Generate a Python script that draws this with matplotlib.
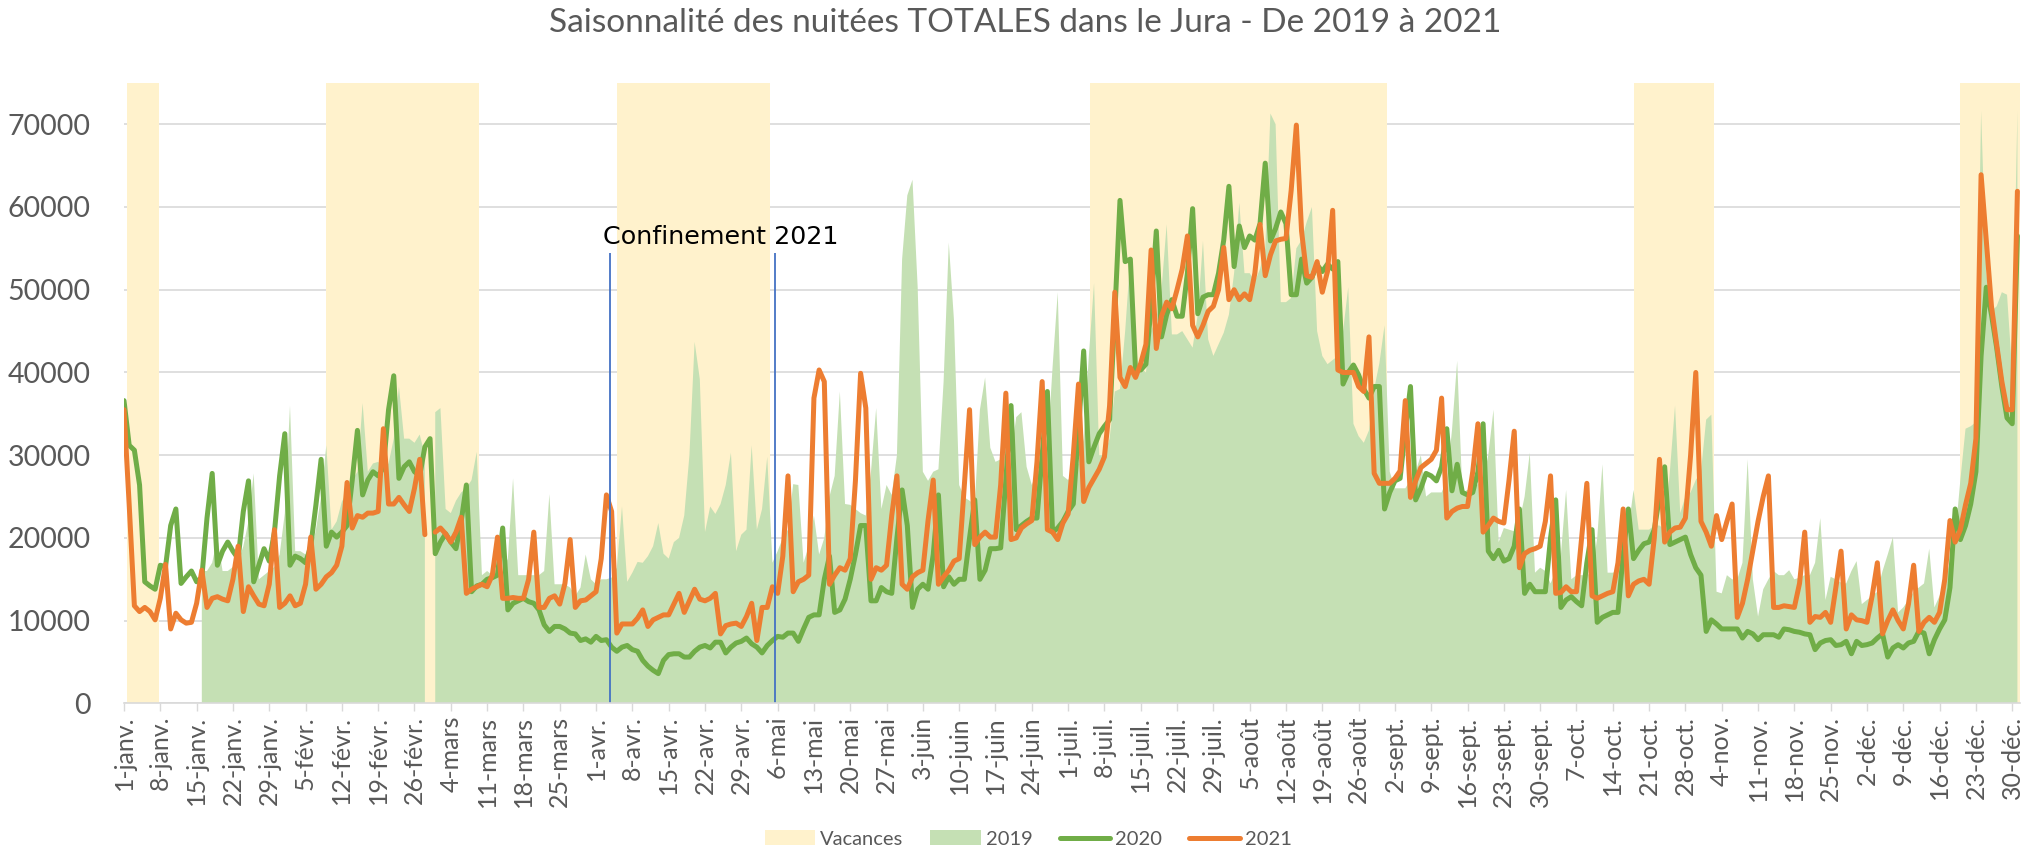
import numpy as np
import matplotlib
matplotlib.use("Agg")
import matplotlib.pyplot as plt
from matplotlib.patches import Patch
from matplotlib.lines import Line2D

nan = float("nan")

TITLE = "Saisonnalité des nuitées TOTALES dans le Jura - De 2019 à 2021"

# weekly tick labels (category axis of a leap year: 366 days)
tick_labels = [
    "1-janv.", "8-janv.", "15-janv.", "22-janv.", "29-janv.", "5-févr.", "12-févr.",
    "19-févr.", "26-févr.", "4-mars", "11-mars", "18-mars", "25-mars", "1-avr.",
    "8-avr.", "15-avr.", "22-avr.", "29-avr.", "6-mai", "13-mai", "20-mai", "27-mai",
    "3-juin", "10-juin", "17-juin", "24-juin", "1-juil.", "8-juil.", "15-juil.",
    "22-juil.", "29-juil.", "5-août", "12-août", "19-août", "26-août", "2-sept.",
    "9-sept.", "16-sept.", "23-sept.", "30-sept.", "7-oct.", "14-oct.", "21-oct.",
    "28-oct.", "4-nov.", "11-nov.", "18-nov.", "25-nov.", "2-déc.", "9-déc.",
    "16-déc.", "23-déc.", "30-déc.",
]

# daily nights, in thousands (index 0 = 1 Jan, 59 = 29 Feb)
nuitees_2019_k = [
    nan, nan, nan, nan, nan, nan, nan, nan, nan, nan,
    nan, nan, nan, nan, nan, 16.0, 16.0, 17.0, 20.0, 16.0,
    16.0, 16.5, 17.0, 19.0, 22.0, 27.8, 15.0, 15.5, 16.0, 16.5,
    18.0, 23.0, 36.0, 18.4, 18.4, 18.0, 18.0, 21.0, 25.0, 31.2,
    21.0, 22.0, 24.4, 25.5, 27.0, 28.0, 36.3, 28.0, 29.0, 29.2,
    28.5, 29.0, 32.0, 38.3, 32.0, 32.0, 31.5, 32.5, 30.0, nan,
    35.2, 35.7, 23.5, 23.0, 24.5, 25.5, 26.0, 27.0, 30.4, 15.5,
    16.0, 15.5, 16.5, 16.0, 17.5, 27.2, 15.5, 15.5, 15.5, 15.5,
    15.5, 16.0, 25.3, 14.4, 14.4, 14.4, 14.0, 13.0, 14.0, 18.0,
    15.0, 14.4, 15.0, 15.0, 15.2, 16.4, 23.8, 14.7, 15.8, 17.1,
    17.0, 17.8, 19.0, 21.8, 18.1, 17.5, 19.5, 20.0, 22.7, 30.0,
    43.7, 39.2, 20.7, 23.8, 22.9, 24.1, 26.4, 30.3, 18.4, 20.4,
    21.0, 31.2, 21.0, 23.5, 29.8, 17.0, 18.4, 20.0, 21.0, 26.5,
    26.4, 17.0, 19.0, 22.7, 18.0, 20.0, 25.0, 27.5, 37.7, 24.1,
    24.0, 23.5, 23.0, 22.7, 28.0, 35.7, 23.5, 26.4, 25.2, 30.0,
    53.7, 61.4, 63.3, 50.3, 28.0, 26.9, 28.0, 28.3, 38.9, 55.7,
    46.3, 26.4, 24.9, 24.5, 24.0, 35.5, 39.4, 30.9, 29.2, 29.5,
    30.0, 30.0, 34.6, 35.2, 28.6, 26.4, 28.0, 28.5, 30.3, 40.6,
    49.7, 27.5, 27.0, 28.0, 29.0, 32.0, 42.0, 50.8, 30.0, 30.0,
    32.0, 37.7, 38.0, 45.0, 54.0, 40.6, 40.6, 40.0, 45.0, 46.5,
    50.0, 57.9, 44.6, 44.6, 45.0, 44.0, 43.0, 47.0, 55.9, 44.0,
    42.0, 43.4, 44.8, 47.0, 52.0, 60.5, 52.0, 52.0, 51.0, 52.5,
    55.0, 71.3, 70.0, 48.5, 48.5, 49.0, 55.0, 56.0, 58.2, 60.0,
    45.0, 42.0, 41.0, 41.5, 42.0, 45.0, 50.3, 33.8, 32.3, 31.5,
    33.0, 38.0, 41.1, 45.7, 28.0, 26.0, 26.0, 26.0, 27.0, 28.0,
    30.0, 25.0, 25.5, 25.5, 25.5, 27.0, 33.0, 41.4, 25.5, 25.8,
    26.0, 26.5, 27.0, 30.0, 35.5, 19.5, 21.2, 21.0, 20.8, 22.0,
    25.0, 30.3, 15.8, 16.4, 16.0, 14.5, 16.0, 18.0, 25.8, 15.0,
    15.5, 15.5, 15.5, 15.8, 20.0, 28.9, 15.8, 15.8, 16.0, 18.0,
    21.0, 25.8, 21.0, 21.0, 21.0, 21.5, 21.5, 21.0, 28.0, 36.0,
    23.0, 25.0, 25.5, 27.0, 28.0, 34.3, 34.9, 13.5, 13.3, 15.5,
    15.0, 15.0, 17.0, 29.5, 15.0, 10.5, 13.8, 15.0, 16.0, 15.5,
    15.5, 16.1, 15.0, 15.2, 15.5, 15.5, 17.0, 22.4, 12.5, 15.3,
    15.0, 14.6, 14.5, 16.0, 17.2, 12.0, 12.5, 13.0, 13.5, 16.0,
    18.0, 20.1, 11.0, 11.6, 12.5, 13.5, 14.0, 14.5, 18.7, 11.6,
    13.0, 15.0, 17.0, 20.0, 27.0, 33.2, 33.5, 34.0, 71.6, 52.0,
    47.4, 48.0, 49.7, 49.4, 40.0, 71.6,
]

nuitees_2020_k = [
    36.6, 31.2, 30.6, 26.4, 14.7, 14.2, 13.8, 16.7, 16.5, 21.5,
    23.5, 14.5, 15.3, 16.0, 14.7, 15.2, 22.4, 27.8, 16.7, 18.4,
    19.5, 18.4, 17.5, 23.2, 26.9, 14.7, 16.7, 18.7, 17.2, 20.7,
    27.5, 32.6, 16.7, 17.8, 17.5, 17.0, 19.0, 24.0, 29.5, 19.0,
    20.7, 20.1, 20.7, 21.5, 27.0, 33.0, 25.2, 27.0, 28.0, 27.5,
    28.5, 35.5, 39.6, 27.2, 28.6, 29.2, 28.0, 27.5, 31.0, 32.0,
    18.1, 19.5, 20.5, 19.5, 18.7, 22.0, 26.4, 13.5, 14.2, 14.4,
    15.0, 15.2, 15.5, 21.2, 11.3, 12.1, 12.4, 12.7, 12.3, 12.1,
    11.3, 9.5, 8.7, 9.3, 9.3, 9.0, 8.5, 8.4, 7.6, 7.8,
    7.4, 8.1, 7.6, 7.7, 6.8, 6.3, 6.8, 7.0, 6.5, 6.3,
    5.2, 4.5, 4.0, 3.6, 5.2, 5.9, 6.0, 6.0, 5.6, 5.6,
    6.3, 6.8, 7.0, 6.7, 7.4, 7.4, 6.1, 6.8, 7.3, 7.5,
    7.9, 7.2, 6.8, 6.1, 7.0, 7.6, 8.1, 8.0, 8.5, 8.5,
    7.5, 9.0, 10.4, 10.7, 10.7, 15.0, 17.8, 11.0, 11.3, 12.6,
    15.0, 18.0, 21.5, 21.5, 12.4, 12.4, 14.0, 13.5, 13.3, 20.0,
    25.8, 21.5, 11.6, 13.8, 14.4, 13.8, 18.0, 25.2, 14.1, 15.3,
    14.4, 15.0, 15.0, 20.0, 24.6, 15.0, 16.1, 18.7, 18.7, 18.8,
    27.0, 36.0, 21.0, 21.5, 22.0, 22.4, 22.4, 30.0, 37.7, 20.7,
    21.2, 22.0, 23.2, 24.1, 33.0, 42.6, 29.2, 31.0, 32.6, 33.5,
    34.3, 47.0, 60.8, 53.4, 53.7, 40.3, 40.3, 41.0, 48.0, 57.1,
    44.3, 47.0, 48.8, 46.8, 46.8, 52.0, 59.8, 47.1, 49.1, 49.4,
    49.4, 52.0, 56.0, 62.5, 52.8, 57.7, 55.1, 56.5, 56.0, 58.0,
    65.3, 55.9, 57.4, 59.4, 58.0, 49.4, 49.4, 53.7, 50.8, 51.5,
    53.0, 52.2, 53.1, 52.5, 53.4, 38.6, 40.0, 40.9, 39.7, 38.0,
    36.9, 38.3, 38.3, 23.5, 25.5, 26.9, 27.2, 33.0, 38.3, 24.6,
    26.0, 27.8, 27.5, 26.9, 28.6, 33.2, 25.7, 28.9, 25.5, 25.2,
    25.5, 28.0, 33.8, 18.4, 17.5, 18.5, 17.2, 17.5, 19.0, 23.5,
    13.3, 14.4, 13.5, 13.5, 13.5, 20.0, 24.6, 11.6, 12.5, 12.9,
    12.3, 11.8, 17.0, 21.0, 9.8, 10.4, 10.7, 11.0, 11.0, 18.0,
    23.5, 17.5, 18.5, 19.3, 19.5, 21.0, 25.0, 28.6, 19.2, 19.5,
    19.8, 20.1, 18.0, 16.4, 15.5, 8.7, 10.1, 9.6, 9.0, 9.0,
    9.0, 9.0, 7.9, 8.7, 8.4, 7.7, 8.3, 8.3, 8.3, 8.0,
    9.0, 8.9, 8.7, 8.6, 8.4, 8.3, 6.5, 7.3, 7.6, 7.7,
    7.0, 7.1, 7.5, 6.0, 7.5, 7.0, 7.1, 7.3, 7.9, 8.4,
    5.6, 6.7, 7.1, 6.7, 7.3, 7.5, 8.7, 8.5, 6.0, 7.7,
    9.0, 10.1, 14.0, 23.5, 19.8, 21.5, 24.1, 28.0, 42.0, 50.3,
    47.0, 43.0, 38.3, 34.5, 33.8, 56.5,
]

nuitees_2021_k = [
    35.5, 24.0, 11.8, 11.1, 11.6, 11.1, 10.1, 12.7, 16.8, 9.0,
    10.9, 10.1, 9.7, 9.8, 12.1, 16.1, 11.6, 12.7, 12.9, 12.6,
    12.4, 15.0, 19.0, 11.1, 14.1, 13.0, 12.0, 11.8, 14.4, 21.0,
    11.6, 12.1, 13.0, 11.8, 12.1, 14.4, 20.1, 13.8, 14.4, 15.3,
    15.8, 16.7, 19.0, 26.7, 21.2, 22.7, 22.5, 23.0, 23.0, 23.2,
    33.2, 24.1, 24.1, 24.9, 24.0, 23.2, 26.0, 29.5, 20.4, nan,
    20.7, 21.2, 20.5, 19.5, 20.7, 22.5, 13.3, 13.8, 14.1, 14.4,
    14.1, 15.5, 20.1, 12.7, 12.7, 12.8, 12.7, 12.7, 15.0, 20.7,
    11.6, 11.6, 12.7, 13.0, 12.0, 14.5, 19.8, 11.6, 12.4, 12.5,
    13.0, 13.5, 17.5, 25.2, 23.2, 8.5, 9.6, 9.6, 9.6, 10.3,
    11.3, 9.3, 10.1, 10.4, 10.7, 10.7, 12.0, 13.3, 11.0, 12.4,
    13.8, 12.6, 12.4, 12.7, 13.3, 8.4, 9.4, 9.6, 9.7, 9.3,
    10.5, 12.1, 7.6, 11.6, 11.6, 14.1, 13.3, 17.8, 27.5, 13.5,
    14.7, 15.0, 15.5, 36.9, 40.3, 38.9, 14.4, 15.5, 16.4, 16.1,
    17.5, 26.9, 39.9, 35.7, 15.0, 16.4, 16.1, 16.7, 22.7, 27.5,
    14.4, 13.8, 15.3, 15.8, 16.1, 22.1, 27.0, 14.4, 15.3, 16.1,
    17.2, 17.5, 26.4, 35.5, 19.2, 20.1, 20.7, 20.1, 20.1, 26.4,
    37.5, 19.8, 20.0, 21.2, 21.7, 22.1, 29.2, 38.9, 21.0, 20.7,
    19.8, 21.8, 22.9, 30.0, 38.6, 24.4, 26.1, 27.2, 28.3, 29.8,
    36.0, 49.7, 39.4, 38.3, 40.6, 39.4, 41.1, 43.4, 54.8, 42.9,
    46.8, 48.5, 47.7, 50.0, 52.5, 56.5, 45.7, 44.3, 45.7, 47.4,
    48.0, 50.0, 55.1, 48.8, 50.0, 48.8, 49.5, 48.8, 52.0, 57.9,
    51.7, 54.2, 55.9, 56.1, 56.2, 62.0, 69.9, 57.1, 51.7, 51.5,
    53.4, 49.7, 52.2, 59.6, 40.3, 40.0, 40.0, 40.0, 38.3, 37.7,
    44.3, 27.8, 26.6, 26.6, 26.6, 27.2, 28.1, 36.6, 24.9, 26.9,
    28.5, 29.0, 29.5, 30.6, 36.9, 22.4, 23.2, 23.6, 23.8, 23.8,
    28.0, 33.8, 20.7, 21.5, 22.4, 22.0, 21.8, 27.0, 32.9, 16.4,
    18.1, 18.5, 18.7, 19.0, 22.0, 27.5, 13.3, 13.4, 14.1, 13.5,
    13.5, 20.0, 26.6, 13.0, 12.7, 13.0, 13.3, 13.5, 17.0, 23.5,
    13.0, 14.4, 14.8, 15.0, 14.4, 20.0, 29.5, 19.5, 20.7, 21.2,
    21.3, 22.4, 30.0, 40.0, 22.0, 20.7, 19.0, 22.7, 19.8, 22.0,
    24.1, 10.4, 12.1, 15.0, 18.5, 22.0, 25.0, 27.5, 11.6, 11.6,
    11.8, 11.7, 11.6, 14.5, 20.7, 9.8, 10.5, 10.4, 11.0, 9.8,
    14.0, 18.4, 9.0, 10.7, 10.1, 10.0, 9.8, 13.0, 17.0, 8.4,
    10.0, 11.3, 10.0, 9.0, 12.0, 16.7, 8.7, 9.8, 10.4, 9.8,
    11.0, 15.0, 22.1, 19.5, 21.0, 24.0, 26.6, 32.0, 63.9, 55.9,
    48.0, 43.4, 38.9, 35.5, 35.5, 61.9,
]

# school holidays (day index start / end)
vacances_debut = [0.5, 39.0, 95.0, 186.3, 291.0, 354.0]
vacances_fin = [6.7, 68.5, 124.5, 243.5, 306.5, 365.5]

# 2021 lockdown markers (day index) and label
confinement_jours = [93.7, 125.4]
confinement_haut = 54400
confinement_label = "Confinement 2021"
confinement_label_pos = (115.0, 56400)

C_VAC = "#FFF2CC"
C_2019 = "#C5E0B4"
C_2020 = "#70AD47"
C_2021 = "#ED7D31"
C_CONF = "#4472C4"
C_TEXT = "#595959"
C_GRID = "#D9D9D9"

plt.rcParams["font.family"] = ["Lato", "DejaVu Sans"]

W, H = 2031, 849
fig = plt.figure(figsize=(W / 100, H / 100), dpi=100)
ax = fig.add_axes([124 / W, 1 - 703.4 / H, (2020 - 124) / W, (703.4 - 82.9) / H])

y19 = np.array(nuitees_2019_k) * 1000
y20 = np.array(nuitees_2020_k) * 1000
y21 = np.array(nuitees_2021_k) * 1000
days = np.arange(len(y20))

for a, b in zip(vacances_debut, vacances_fin):
    ax.axvspan(a, b, color=C_VAC, lw=0, zorder=1)

ax.fill_between(days, 0, y19, color=C_2019, lw=0, zorder=2)
ax.plot(days, y20, color=C_2020, lw=3.6, zorder=3,
        solid_joinstyle="round", solid_capstyle="round")
ax.plot(days, y21, color=C_2021, lw=3.6, zorder=4,
        solid_joinstyle="round", solid_capstyle="round")

ax.vlines(confinement_jours, 0, confinement_haut, color=C_CONF, lw=1.3, zorder=5)
ax.text(confinement_label_pos[0], confinement_label_pos[1], confinement_label,
        ha="center", va="center", fontsize=18.3, family="DejaVu Sans",
        color="black", zorder=6)

ax.set_xlim(0, 365.5)
ax.set_ylim(0, 75000)

ax.set_xticks(np.arange(0, 7 * len(tick_labels), 7))
ax.set_xticklabels(tick_labels, rotation=90, ha="center", va="top")
ax.set_yticks(np.arange(0, 70001, 10000))
ax.set_yticklabels([str(v) for v in range(0, 70001, 10000)])

ax.yaxis.grid(True, color=C_GRID, lw=1.2, zorder=0)
ax.set_axisbelow(True)
for s in ("left", "right", "top"):
    ax.spines[s].set_visible(False)
ax.spines["bottom"].set_color(C_GRID)
ax.spines["bottom"].set_linewidth(1.2)
ax.spines["bottom"].set_zorder(7)

ax.tick_params(axis="x", length=6, width=1.0, color=C_GRID, labelcolor=C_TEXT,
               labelsize=18, pad=3)
ax.tick_params(axis="y", length=0, labelcolor=C_TEXT, labelsize=20.5, pad=24)

fig.text(1025 / W, 1 - 23 / H, TITLE, ha="center", va="center",
         fontsize=24, color=C_TEXT)

handles = [
    Patch(facecolor=C_VAC, edgecolor="none"),
    Patch(facecolor=C_2019, edgecolor="none"),
    Line2D([0], [0], color=C_2020, lw=3.6, solid_capstyle="round"),
    Line2D([0], [0], color=C_2021, lw=3.6, solid_capstyle="round"),
]
fig.legend(handles, ["Vacances", "2019", "2020", "2021"], loc="center",
           bbox_to_anchor=(1028 / W, 1 - 839 / H), ncol=4, frameon=False,
           fontsize=14.5, handlelength=2.5, handletextpad=0.25,
           columnspacing=1.35, labelcolor=C_TEXT)

fig.savefig("out.png", dpi=100)
